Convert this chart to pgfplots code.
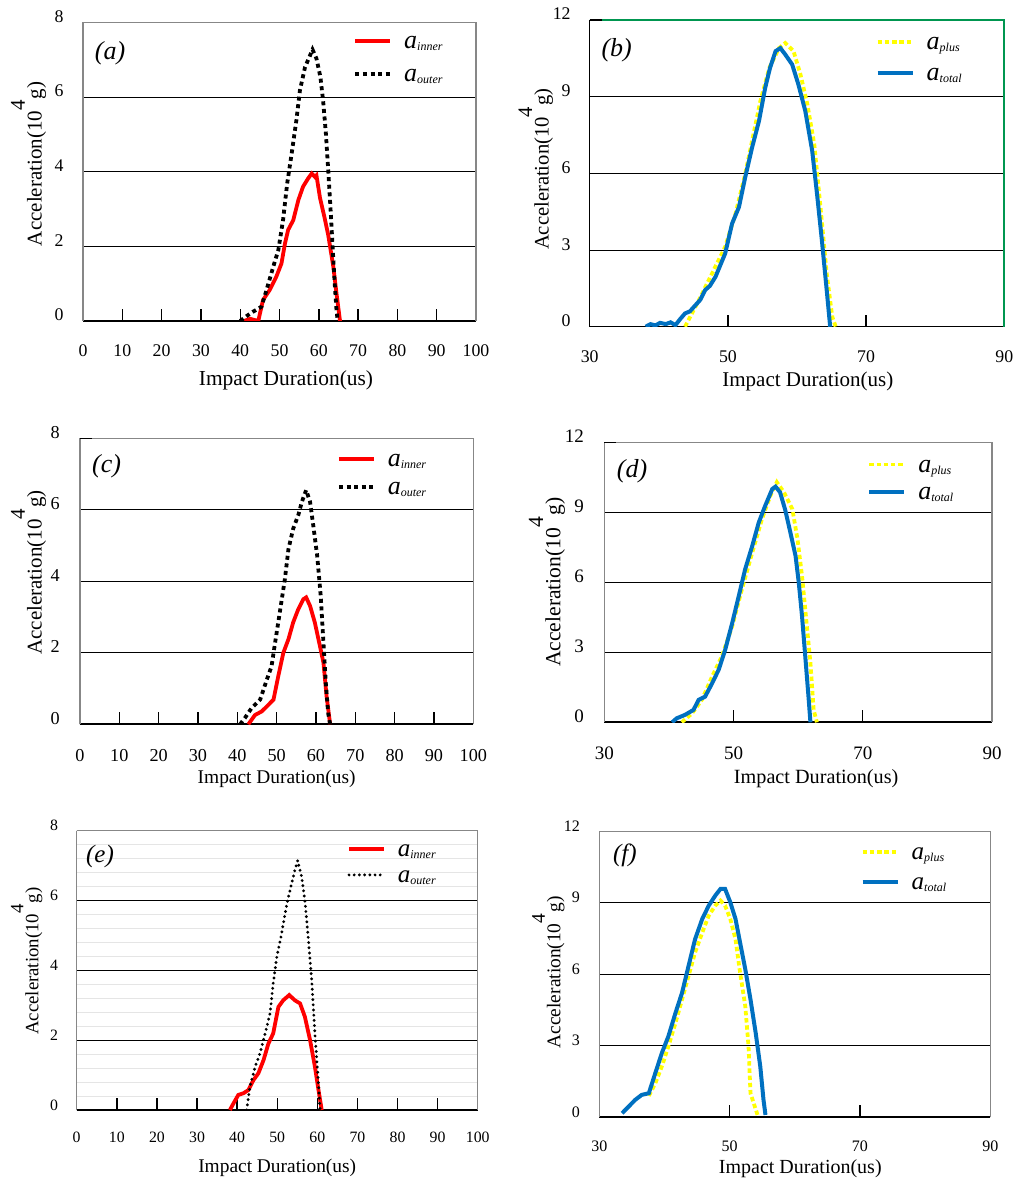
\documentclass[border=0pt]{standalone}
\usepackage{fontspec}
\setmainfont{Liberation Serif}
\usepackage{pgfplots}
\pgfplotsset{compat=1.18}
\definecolor{myblue}{RGB}{0,112,192}
\definecolor{myyellow}{RGB}{255,255,0}
\definecolor{mygreen}{RGB}{0,150,80}
\definecolor{framegray}{RGB}{135,135,135}
\newcommand{\lgd}[2]{{\fontsize{#2}{#2}\selectfont\itshape a}\raisebox{-1pt}{\fontsize{6}{6}\selectfont\itshape #1}}
\newcommand{\ylab}{Acceleration(10\raisebox{0.8em}{4}\hspace{0.05em}g)}
\pgfplotsset{
  common/.style={
    scale only axis, anchor=south west,
    axis x line*=bottom, axis y line*=left,
    x axis line style={black, line width=0.8pt},
    y axis line style={framegray, line width=0.6pt},
    tick align=inside, major tick length=6pt,
    tick style={black, line width=0.7pt},
    every y tick/.append style={draw=none},
    ymajorgrids, grid style={black, line width=0.45pt},
    /pgf/number format/assume math mode=true,
    xticklabel style={anchor=base, inner sep=0pt},
    yticklabel style={anchor=base east, inner sep=0pt},
    legend style={draw=none, fill=none, inner sep=0pt, column sep=6pt,
      nodes={anchor=base west, inner sep=0pt, text height=9pt, text depth=3pt}},
    legend image code/.code={\draw[##1] (0pt,3.8pt) -- (17.5pt,3.8pt);},
    xlabel={Impact Duration(us)},
    ylabel={\ylab},
  },
  grayframe/.style={after end axis/.code={\draw[framegray, line width=0.6pt] (rel axis cs:0,1) -- (rel axis cs:1,1) -- (rel axis cs:1,0);}},
  grayframetick/.style={after end axis/.code={\draw[framegray, line width=0.6pt] (rel axis cs:0,1) -- (rel axis cs:1,1) -- (rel axis cs:1,0);
    \draw[black, line width=0.7pt] (rel axis cs:0,1) -- ++(6pt,0pt);}},
  greenframe/.style={y axis line style={black, line width=0.7pt},
    after end axis/.code={\draw[mygreen, line width=0.9pt] (rel axis cs:0,1) -- (rel axis cs:1,1) -- (rel axis cs:1,0);
    \draw[black, line width=0.8pt] (rel axis cs:0,1) -- ++(6pt,0pt);}},
  inner/.style={red, line width=1.9pt},
  outer/.style={black, line width=1.9pt, dash pattern=on 2pt off 1.8pt},
  outerdot/.style={black, line width=1.6pt, line cap=round, dash pattern=on 0pt off 2.6pt},
  plus/.style={myyellow, line width=1.9pt, dash pattern=on 2.2pt off 1.4pt},
  total/.style={myblue, line width=2pt},
}
\begin{document}
\begin{tikzpicture}
\path[use as bounding box] (0,0) rectangle (512pt,594pt);

% (a)
\begin{axis}[common, grayframe,
  at={(41.5pt,433.5pt)}, width=196.5pt, height=149.35pt,
  xmin=0, xmax=100, ymin=0, ymax=8,
  xtick={0,10,...,100}, ytick={0,2,...,8},
  tick label style={font=\fontsize{8.9}{10}\selectfont},
  xticklabel style={yshift=-17.8pt}, yticklabel style={xshift=-9.5pt},
  every axis x label/.style={at={([xshift=3.25pt,yshift=-32.5pt]axis description cs:0.5,0)}, anchor=base, font=\fontsize{10.7}{12}\selectfont},
  every axis y label/.style={at={([xshift=-20.7pt,yshift=3.85pt]axis description cs:0,0.5)}, rotate=90, anchor=base, font=\fontsize{10.5}{12}\selectfont},
  legend style={at={([xshift=135pt,yshift=-4pt]axis description cs:0,1)}, anchor=north west, row sep=4.5pt},
]
\addplot[inner] coordinates {(41,0) (42.5,0.06) (43.5,0.03) (44.6,0) (45.8,0.56) (47.5,0.83) (49.2,1.19) (50.5,1.54) (51.4,2.08) (52.2,2.44) (53.5,2.7) (54.8,3.24) (56,3.6) (57.3,3.82) (58.2,3.95) (59,3.86) (59.4,3.9) (60.3,3.3) (61.5,2.75) (62.4,2.3) (63.7,1.45) (64.5,0.74) (65.4,0)};
\addlegendentry{\lgd{inner}{13}}
\addplot[outer] coordinates {(40,0) (41.6,0.13) (43.3,0.25) (45.4,0.38) (46.7,0.83) (48.4,1.45) (49.7,1.9) (50.9,2.7) (51.95,3.68) (53.1,4.49) (54.3,5.38) (55.2,6.18) (56.5,6.8) (57.6,7.07) (58.4,7.27) (59.4,7.03) (60.4,6.54) (61.1,5.9) (61.8,5.02) (62.4,4.04) (63.1,2.79) (63.7,1.63) (64.1,0.92) (64.5,0.3) (64.8,0)};
\addlegendentry{\lgd{outer}{13}}
\node[font=\fontsize{13}{13}\selectfont\itshape] at ([xshift=13.5pt,yshift=-15.5pt]rel axis cs:0,1) {(a)};
\end{axis}

% (b)
\begin{axis}[common, greenframe,
  at={(294.85pt,430.65pt)}, width=207.3pt, height=153.35pt,
  xmin=30, xmax=90, ymin=0, ymax=12,
  xtick={30,50,70,90}, ytick={0,3,...,12},
  tick label style={font=\fontsize{8.9}{10}\selectfont},
  xticklabel style={yshift=-18pt}, yticklabel style={xshift=-9.35pt},
  every axis x label/.style={at={([xshift=5.4pt,yshift=-29.7pt]axis description cs:0.5,0)}, anchor=base, font=\fontsize{10.5}{12}\selectfont},
  every axis y label/.style={at={([xshift=-20.5pt,yshift=2pt]axis description cs:0,0.5)}, rotate=90, anchor=base, font=\fontsize{10.3}{12}\selectfont},
  legend style={at={([xshift=142.8pt,yshift=-5.65pt]axis description cs:0,1)}, anchor=north west, row sep=3.3pt},
]
\addplot[plus] coordinates {(43.8,0) (45.8,1.04) (47.7,2.08) (49.6,3.12) (51.1,4.42) (52.5,5.97) (53.5,7.27) (54.7,8.83) (56,10.13) (57.4,10.9) (58.3,11.1) (59.5,10.78) (60.5,9.87) (61.5,8.7) (62.5,7.14) (63.4,4.68) (64.3,2.08) (65.1,0.39) (65.6,0)};
\addlegendentry{\lgd{plus}{13}}
\addplot[total] coordinates {(38.1,0) (38.8,0.1) (39.5,0.05) (40.2,0.15) (41,0.1) (41.7,0.17) (42.4,0.06) (43.1,0.3) (43.8,0.52) (44.5,0.6) (45.3,0.84) (46,1.05) (46.7,1.43) (47.4,1.6) (48.2,1.95) (49.6,2.86) (50.6,4.03) (51.6,4.68) (52.5,5.84) (53.5,7.01) (54.5,8.05) (55.4,9.35) (56.1,10.13) (56.9,10.78) (57.6,10.9) (58.3,10.65) (59.3,10.26) (60.2,9.48) (61.2,8.44) (62.2,6.88) (62.9,5.19) (63.6,3.38) (64.3,1.43) (64.8,0)};
\addlegendentry{\lgd{total}{13}}
\node[font=\fontsize{13}{13}\selectfont\itshape] at ([xshift=13.5pt,yshift=-15pt]rel axis cs:0,1) {(b)};
\end{axis}

% (c)
\begin{axis}[common, grayframetick,
  at={(40pt,231.85pt)}, width=196.65pt, height=143pt,
  xmin=0, xmax=100, ymin=0, ymax=8,
  xtick={0,10,...,100}, ytick={0,2,...,8},
  tick label style={font=\fontsize{9.1}{10}\selectfont},
  xticklabel style={yshift=-18.7pt}, yticklabel style={xshift=-10pt},
  every axis x label/.style={at={([xshift=0pt,yshift=-29.5pt]axis description cs:0.5,0)}, anchor=base, font=\fontsize{9.7}{12}\selectfont},
  every axis y label/.style={at={([xshift=-19.2pt,yshift=4.4pt]axis description cs:0,0.5)}, rotate=90, anchor=base, font=\fontsize{10.5}{12}\selectfont},
  legend style={at={([xshift=128.3pt,yshift=-4.8pt]axis description cs:0,1)}, anchor=north west, row sep=2pt},
]
\addplot[inner] coordinates {(42.8,0) (44.5,0.26) (46.2,0.36) (47.5,0.5) (49.2,0.69) (50.4,1.34) (51.7,2.0) (53,2.38) (54.2,2.85) (55.5,3.22) (56.8,3.5) (57.5,3.55) (58.5,3.31) (59.7,2.85) (61,2.19) (61.9,1.72) (62.7,0.78) (63.6,0)};
\addlegendentry{\lgd{inner}{13}}
\addplot[outer] coordinates {(40.7,0) (41.9,0.17) (43.6,0.45) (45.8,0.69) (47.5,1.25) (48.7,1.62) (49.6,2.28) (50.8,3.13) (52.1,4.07) (53,4.9) (54.2,5.47) (55.5,5.85) (56.4,6.22) (57.5,6.55) (58.5,6.22) (59.3,5.57) (60.3,4.72) (61.2,3.6) (61.9,2.28) (62.5,1.15) (63.1,0.31) (63.6,0)};
\addlegendentry{\lgd{outer}{13}}
\node[font=\fontsize{13}{13}\selectfont\itshape] at ([xshift=13.3pt,yshift=-14.2pt]rel axis cs:0,1) {(c)};
\end{axis}

% (d)
\begin{axis}[common, grayframetick,
  at={(302.15pt,232.85pt)}, width=193.85pt, height=140pt,
  xmin=30, xmax=90, ymin=0, ymax=12,
  xtick={30,50,70,90}, ytick={0,3,...,12},
  tick label style={font=\fontsize{9.5}{10}\selectfont},
  xticklabel style={yshift=-18.8pt}, yticklabel style={xshift=-10pt},
  every axis x label/.style={at={([xshift=9pt,yshift=-30.5pt]axis description cs:0.5,0)}, anchor=base, font=\fontsize{10.1}{12}\selectfont},
  every axis y label/.style={at={([xshift=-22pt,yshift=0pt]axis description cs:0,0.5)}, rotate=90, anchor=base, font=\fontsize{10.8}{12}\selectfont},
  legend style={at={([xshift=131.3pt,yshift=-5.7pt]axis description cs:0,1)}, anchor=north west, row sep=1.8pt},
]
\addplot[plus] coordinates {(42,0) (43.6,0.39) (45.1,0.96) (46.7,1.97) (48.2,2.83) (49.8,4.12) (51.3,5.7) (52.9,7.28) (54.4,8.71) (55.7,9.71) (56.7,10.29) (57.8,9.86) (59.1,9.14) (59.9,7.85) (60.6,6.27) (61.1,4.84) (61.9,2.54) (62.4,0.53) (62.9,0)};
\addlegendentry{\lgd{plus}{13}}
\addplot[total] coordinates {(40.5,0) (41.2,0.17) (42.5,0.32) (43.8,0.53) (44.6,0.96) (45.6,1.1) (46.7,1.68) (47.7,2.25) (48.7,3.1) (49.8,4.26) (50.8,5.4) (51.8,6.56) (52.9,7.56) (53.9,8.56) (54.9,9.28) (56,10) (56.5,10.1) (57.2,9.86) (58,9.1) (58.8,8.13) (59.6,7.13) (60.1,5.98) (60.6,4.55) (61.1,2.83) (61.6,1.1) (61.9,0)};
\addlegendentry{\lgd{total}{13}}
\node[font=\fontsize{13}{13}\selectfont\itshape] at ([xshift=13.85pt,yshift=-14.7pt]rel axis cs:0,1) {(d)};
\end{axis}

% (e)
\begin{axis}[common, grayframe,
  at={(38.35pt,39pt)}, width=200.5pt, height=139.75pt,
  xmin=0, xmax=100, ymin=0, ymax=8,
  xtick={0,10,...,100}, ytick={0,2,...,8},
  minor y tick num=4, yminorgrids, minor grid style={black!10, line width=0.4pt}, minor tick length=0pt,
  tick label style={font=\fontsize{7.9}{9}\selectfont},
  xticklabel style={yshift=-16.2pt}, yticklabel style={xshift=-9.2pt},
  every axis x label/.style={at={([xshift=0pt,yshift=-31.3pt]axis description cs:0.5,0)}, anchor=base, font=\fontsize{9.7}{12}\selectfont},
  every axis y label/.style={at={([xshift=-19.2pt,yshift=4.5pt]axis description cs:0,0.5)}, rotate=90, anchor=base, font=\fontsize{9.4}{11}\selectfont},
  legend style={at={([xshift=135pt,yshift=-3.8pt]axis description cs:0,1)}, anchor=north west, row sep=1pt},
]
\addplot[inner] coordinates {(38.2,0) (39.1,0.19) (40.3,0.43) (41.6,0.48) (42.8,0.57) (44.1,0.86) (45.3,1.05) (46.6,1.43) (47.8,1.9) (49,2.19) (50.3,2.95) (51.5,3.14) (53,3.29) (54.4,3.14) (55.7,3.05) (56.9,2.67) (58.2,2.0) (59.4,1.24) (60.3,0.57) (61.1,0)};
\addlegendentry{\lgd{inner}{12.5}}
\addplot[outerdot] coordinates {(42.4,0) (43.2,0.67) (44.5,1.24) (45.7,1.62) (47,2.19) (48.2,2.76) (49,3.62) (49.9,4.38) (51.1,5.05) (52.4,5.9) (53.6,6.48) (54.4,6.86) (55.1,7.14) (56.1,6.67) (56.9,6.0) (57.8,4.86) (58.6,3.71) (59.4,2.19) (60.3,0.76) (60.7,0)};
\addlegendentry{\lgd{outer}{12.5}}
\node[font=\fontsize{12.5}{13}\selectfont\itshape] at ([xshift=11.65pt,yshift=-12.9pt]rel axis cs:0,1) {(e)};
\end{axis}

% (f)
\begin{axis}[common, grayframe,
  at={(299.65pt,35.35pt)}, width=195.5pt, height=142.9pt,
  xmin=30, xmax=90, ymin=0, ymax=12,
  xtick={30,50,70,90}, ytick={0,3,...,12},
  tick label style={font=\fontsize{8}{9}\selectfont},
  xticklabel style={yshift=-17.2pt}, yticklabel style={xshift=-9.5pt},
  every axis x label/.style={at={([xshift=2.75pt,yshift=-28pt]axis description cs:0.5,0)}, anchor=base, font=\fontsize{10}{12}\selectfont},
  every axis y label/.style={at={([xshift=-19.5pt,yshift=1pt]axis description cs:0,0.5)}, rotate=90, anchor=base, font=\fontsize{9.7}{11}\selectfont},
  legend style={at={([xshift=130.5pt,yshift=-4.75pt]axis description cs:0,1)}, anchor=north west, row sep=3.2pt},
]
\addplot[plus] coordinates {(37.6,0.9) (38.6,1.43) (39.6,2.14) (40.6,2.98) (41.7,3.97) (42.7,4.95) (43.7,5.94) (44.7,6.92) (45.8,7.76) (46.8,8.47) (47.8,8.89) (48.6,9.1) (49.3,8.89) (50.1,8.33) (50.9,7.48) (51.6,6.08) (52.4,4.67) (52.9,2.98) (53.2,1.01) (53.7,0.59) (54.4,0)};
\addlegendentry{\lgd{plus}{12.5}}
\addplot[total] coordinates {(33.5,0.17) (34.5,0.45) (35.5,0.73) (36.5,0.94) (37.6,1.01) (38.6,1.86) (39.6,2.7) (40.6,3.4) (41.7,4.39) (42.7,5.23) (43.7,6.36) (44.7,7.48) (45.8,8.33) (46.8,8.89) (47.8,9.31) (48.6,9.59) (49.3,9.59) (50.1,9.03) (50.9,8.33) (51.6,7.34) (52.4,6.22) (53.2,4.95) (54,3.54) (54.7,2.14) (55.2,0.73) (55.5,0.1)};
\addlegendentry{\lgd{total}{12.5}}
\node[font=\fontsize{12.5}{13}\selectfont\itshape] at ([xshift=12.75pt,yshift=-12.15pt]rel axis cs:0,1) {(f)};
\end{axis}
\end{tikzpicture}
\end{document}
